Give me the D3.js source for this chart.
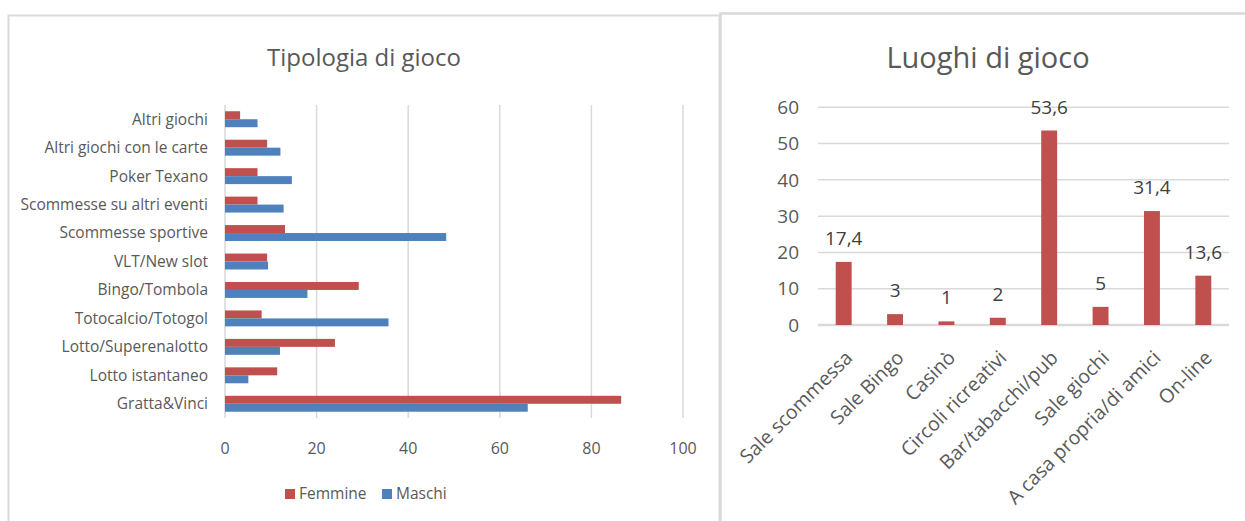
<!DOCTYPE html>
<html>
<head>
<meta charset="utf-8">
<script src="https://cdn.jsdelivr.net/npm/d3@7"></script>
<style>
  body { margin: 0; background: #fff; }
  svg { display: block; font-family: 'Open Sans', sans-serif; }
</style>
</head>
<body>
<svg id="chart" width="1245" height="521"></svg>
<script>
// --- data: Tipologia di gioco (top to bottom) ---
const tipologie = ['Altri giochi', 'Altri giochi con le carte', 'Poker Texano',
    'Scommesse su altri eventi', 'Scommesse sportive', 'VLT/New slot ',
    'Bingo/Tombola', 'Totocalcio/Totogol', 'Lotto/Superenalotto',
    'Lotto istantaneo', 'Gratta&Vinci']
const femmine = [3.3, 9.2, 7.1, 7.1, 13.1, 9.2, 29.2, 8, 24, 11.4, 86.5]
const maschi = [7.1, 12.1, 14.6, 12.8, 48.3, 9.4, 18, 35.7, 12, 5.1, 66.1]
const serie = ['Femmine', 'Maschi']
const xTicks = [0, 20, 40, 60, 80, 100]

// --- data: Luoghi di gioco ---
const luoghi = ['Sale scommessa', 'Sale Bingo', 'Casinò', 'Circoli ricreativi',
    'Bar/tabacchi/pub', 'Sale giochi', 'A casa propria/di amici', 'On-line']
const percentuali = [17.4, 3, 1, 2, 53.6, 5, 31.4, 13.6]
const yTicks = [0, 10, 20, 30, 40, 50, 60]

const colors = { Femmine: '#c0504d', Maschi: '#4f81bd' }
const gridColor = '#d9d9d9',
    textColor = '#595959',
    labelColor = '#404040'

const svg = d3.select('#chart')

// panel borders
svg.append('rect')
    .attr('x', 8.5).attr('y', 15.5)
    .attr('width', 711).attr('height', 600)
    .attr('fill', 'none').attr('stroke', gridColor).attr('stroke-width', 2)
svg.append('rect')
    .attr('x', 720.5).attr('y', 13.5)
    .attr('width', 600).attr('height', 600)
    .attr('fill', 'none').attr('stroke', gridColor).attr('stroke-width', 2.5)

drawTipologia()
drawLuoghi()

function drawTipologia() {
    const g = svg.append('g')

    const x = d3.scaleLinear().domain([0, 100]).range([225, 683])
    const y = d3.scaleBand().domain(tipologie).range([105, 418])
        .paddingInner(0.44).paddingOuter(0.22)
    const ySub = d3.scaleBand().domain(serie).range([0, y.bandwidth()])

    g.append('text')
        .attr('x', 364).attr('y', 66)
        .attr('text-anchor', 'middle')
        .style('font-size', '24px')
        .attr('fill', textColor)
        .text('Tipologia di gioco')

    // vertical grid lines
    g.selectAll('line.grid')
        .data(xTicks)
        .enter().append('line')
        .attr('class', 'grid')
        .attr('x1', x).attr('x2', x)
        .attr('y1', 105).attr('y2', 418)
        .attr('stroke', gridColor).attr('stroke-width', 1.5)

    g.selectAll('text.tick')
        .data(xTicks)
        .enter().append('text')
        .attr('class', 'tick')
        .attr('x', x).attr('y', 448)
        .attr('dy', '0.35em')
        .attr('text-anchor', 'middle')
        .style('font-size', '16px')
        .attr('fill', textColor)
        .text((d) => d)

    const rows = tipologie.map((cat, i) => ({ cat: cat, Femmine: femmine[i], Maschi: maschi[i] }))

    const group = g.selectAll('g.row')
        .data(rows)
        .enter().append('g')
        .attr('class', 'row')
        .attr('transform', (d) => `translate(0, ${ y(d.cat) })`)

    group.selectAll('rect')
        .data((d) => serie.map((s) => ({ key: s, value: d[s] })))
        .enter().append('rect')
        .attr('x', x(0))
        .attr('y', (d) => ySub(d.key))
        .attr('width', (d) => x(d.value) - x(0))
        .attr('height', ySub.bandwidth())
        .attr('fill', (d) => colors[d.key])

    g.selectAll('text.cat')
        .data(tipologie)
        .enter().append('text')
        .attr('class', 'cat')
        .attr('x', 208)
        .attr('y', (d) => y(d) + y.bandwidth() / 2)
        .attr('dy', '0.35em')
        .attr('text-anchor', 'end')
        .style('font-size', '15.5px')
        .attr('fill', textColor)
        .text((d) => d)

    // legend
    const legend = g.selectAll('g.legend')
        .data(serie)
        .enter().append('g')
        .attr('class', 'legend')
        .attr('transform', (d, i) => `translate(${ i == 0 ? 285 : 382 }, 494)`)

    legend.append('rect')
        .attr('x', 0).attr('y', -5)
        .attr('width', 10).attr('height', 10)
        .attr('fill', (d) => colors[d])

    legend.append('text')
        .attr('x', 14).attr('dy', '0.35em')
        .style('font-size', '15.5px')
        .attr('fill', textColor)
        .text((d) => d)
}

function drawLuoghi() {
    const g = svg.append('g')

    const x = d3.scaleBand().domain(luoghi).range([818, 1229])
        .paddingInner(0.69).paddingOuter(0.345)
    const y = d3.scaleLinear().domain([0, 60]).range([325, 107.3])
    const fmt = (v) => String(v).replace('.', ',')

    g.append('text')
        .attr('x', 988).attr('y', 68)
        .attr('text-anchor', 'middle')
        .style('font-size', '29px')
        .attr('fill', textColor)
        .text('Luoghi di gioco')

    g.selectAll('line.grid')
        .data(yTicks)
        .enter().append('line')
        .attr('class', 'grid')
        .attr('x1', 818).attr('x2', 1229)
        .attr('y1', y).attr('y2', y)
        .attr('stroke', gridColor).attr('stroke-width', (d) => d == 0 ? 2.5 : 1.5)

    g.selectAll('text.tick')
        .data(yTicks)
        .enter().append('text')
        .attr('class', 'tick')
        .attr('x', 799).attr('y', y)
        .attr('dy', '0.35em')
        .attr('text-anchor', 'end')
        .style('font-size', '19px')
        .attr('fill', textColor)
        .text((d) => d)

    const rows = luoghi.map((luogo, i) => ({ luogo: luogo, value: percentuali[i] }))

    g.selectAll('rect.bar')
        .data(rows)
        .enter().append('rect')
        .attr('class', 'bar')
        .attr('x', (d) => x(d.luogo))
        .attr('y', (d) => y(d.value))
        .attr('width', x.bandwidth())
        .attr('height', (d) => y(0) - y(d.value))
        .attr('fill', colors.Femmine)

    g.selectAll('text.value')
        .data(rows)
        .enter().append('text')
        .attr('class', 'value')
        .attr('x', (d) => x(d.luogo) + x.bandwidth() / 2)
        .attr('y', (d) => y(d.value) - 17)
        .attr('text-anchor', 'middle')
        .style('font-size', '19px')
        .attr('fill', labelColor)
        .text((d) => fmt(d.value))

    g.selectAll('text.cat')
        .data(luoghi)
        .enter().append('text')
        .attr('class', 'cat')
        .attr('transform', (d) => `translate(${ x(d) + x.bandwidth() / 2 + 10 }, 359) rotate(-45)`)
        .attr('text-anchor', 'end')
        .style('font-size', '19.5px')
        .attr('fill', textColor)
        .text((d) => d)
}
</script>
</body>
</html>
